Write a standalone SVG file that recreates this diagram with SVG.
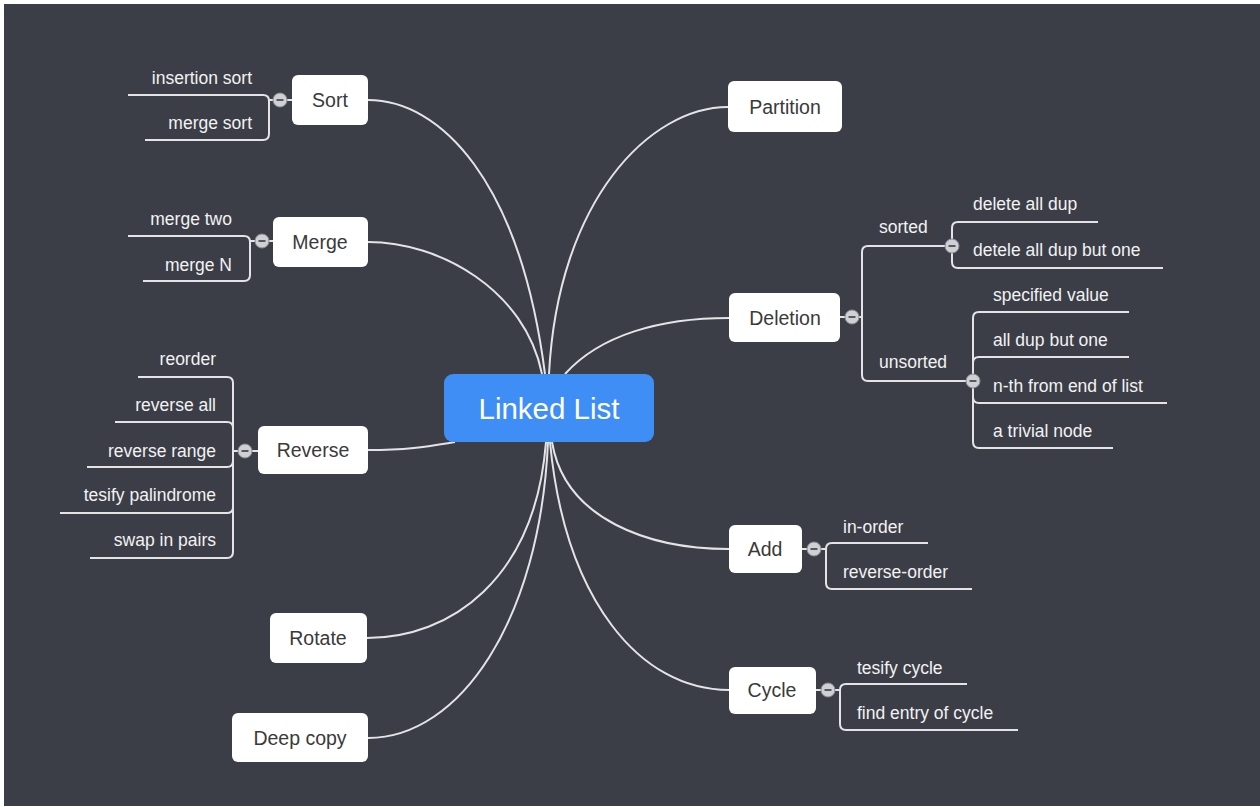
<svg xmlns="http://www.w3.org/2000/svg" width="1260" height="807" viewBox="0 0 1260 807">
<style>
.bg{fill:#3b3e47}
.node rect{fill:#ffffff}
.node text{font-family:"Liberation Sans",Arial,sans-serif;font-size:19.5px;fill:#3a3a3a;text-anchor:middle}
.sub{font-family:"Liberation Sans",Arial,sans-serif;font-size:17.5px;fill:#f2f2f2}
.end{text-anchor:end}
.conn path{fill:none;stroke:#e4e4e6;stroke-width:2}
.tog circle{fill:#cfd0d3;stroke:#8a8c90;stroke-width:1}
.tog line{stroke:#4a4c52;stroke-width:1.8}
</style>
<rect x="0" y="0" width="1260" height="807" fill="#ffffff"/>
<rect class="bg" x="4" y="4" width="1256" height="802"/>
<g id="connectors" class="conn">
<path d="M368,100 C440,100 520,180 545,374"/>
<path d="M368,242 C440,242 525,290 542,374"/>
<path d="M728,107 C650,107 558,200 549,374"/>
<path d="M729,318 C660,318 600,335 565,374"/>
<path d="M368,450 C410,450 430,446 455,442"/>
<path d="M729,549 C650,549 565,520 552,442"/>
<path d="M729,690 C640,690 565,600 550,442"/>
<path d="M367,638 C450,638 535,580 546,442"/>
<path d="M368,738 C460,738 540,620 548,442"/>
<path d="M128,95 H263 Q269,95 269,101 V134 Q269,140 263,140 H145 M269,100 H292"/>
<path d="M128,236 H244 Q250,236 250,242 V275 Q250,281 244,281 H143 M250,241 H273"/>
<path d="M138,377 H227 Q233,377 233,383 V552 Q233,558 227,558 H90 M115,422 H227 Q233,422 233,428 M87,467 H227 Q233,467 233,461 M60,513 H227 Q233,513 233,507 M233,451 H258"/>
<path d="M952,246 H868 Q862,246 862,252 V375 Q862,381 868,381 H973 M840,317 H862"/>
<path d="M1098,222 H958 Q952,222 952,228 V262 Q952,268 958,268 H1163"/>
<path d="M1129,312 H979 Q973,312 973,318 V442 Q973,448 979,448 H1113 M1129,357 H979 Q973,357 973,363 M1167,403 H979 Q973,403 973,397"/>
<path d="M928,543 H832 Q826,543 826,549 V583 Q826,589 832,589 H972 M802,549 H826"/>
<path d="M967,684 H846 Q840,684 840,690 V724 Q840,730 846,730 H1018 M816,690 H840"/>
</g>
<g id="toggles" class="tog">
<circle cx="280" cy="100" r="7"/><line x1="276.5" y1="100" x2="283.5" y2="100"/>
<circle cx="262" cy="241" r="7"/><line x1="258.5" y1="241" x2="265.5" y2="241"/>
<circle cx="245" cy="451" r="7"/><line x1="241.5" y1="451" x2="248.5" y2="451"/>
<circle cx="852" cy="317" r="7"/><line x1="848.5" y1="317" x2="855.5" y2="317"/>
<circle cx="952" cy="246" r="7"/><line x1="948.5" y1="246" x2="955.5" y2="246"/>
<circle cx="973" cy="381" r="7"/><line x1="969.5" y1="381" x2="976.5" y2="381"/>
<circle cx="814" cy="549" r="7"/><line x1="810.5" y1="549" x2="817.5" y2="549"/>
<circle cx="828" cy="690" r="7"/><line x1="824.5" y1="690" x2="831.5" y2="690"/>
</g>
<g id="center">
<rect x="444" y="374" width="210" height="68" rx="9" fill="#3f8ef6"/>
<text x="549" y="419" font-family="Liberation Sans, Arial, sans-serif" font-size="29.5" fill="#ffffff" text-anchor="middle">Linked List</text>
</g>
<g id="sort" class="node"><rect x="292" y="75" width="76" height="50" rx="6"/><text x="330" y="107">Sort</text></g>
<g id="merge" class="node"><rect x="273" y="217" width="95" height="50" rx="6"/><text x="320" y="249">Merge</text></g>
<g id="reverse" class="node"><rect x="258" y="426" width="110" height="48" rx="6"/><text x="313" y="457">Reverse</text></g>
<g id="rotate" class="node"><rect x="270" y="613" width="97" height="50" rx="6"/><text x="318" y="645">Rotate</text></g>
<g id="deepcopy" class="node"><rect x="232" y="713" width="136" height="49" rx="6"/><text x="300" y="745">Deep copy</text></g>
<g id="partition" class="node"><rect x="728" y="81" width="114" height="51" rx="6"/><text x="785" y="114">Partition</text></g>
<g id="deletion" class="node"><rect x="729" y="293" width="111" height="49" rx="6"/><text x="785" y="325">Deletion</text></g>
<g id="add" class="node"><rect x="729" y="525" width="73" height="48" rx="6"/><text x="765" y="556">Add</text></g>
<g id="cycle" class="node"><rect x="729" y="667" width="87" height="47" rx="6"/><text x="772" y="697">Cycle</text></g>
<g id="sort-items">
<text class="sub end" x="252" y="84">insertion sort</text>
<text class="sub end" x="252" y="129">merge sort</text>
</g>
<g id="merge-items">
<text class="sub end" x="232" y="225">merge two</text>
<text class="sub end" x="232" y="271">merge N</text>
</g>
<g id="reverse-items">
<text class="sub end" x="216" y="365">reorder</text>
<text class="sub end" x="216" y="411">reverse all</text>
<text class="sub end" x="216" y="457">reverse range</text>
<text class="sub end" x="216" y="501">tesify palindrome</text>
<text class="sub end" x="216" y="546">swap in pairs</text>
</g>
<g id="deletion-items">
<text class="sub" x="879" y="233">sorted</text>
<text class="sub" x="879" y="368">unsorted</text>
<text class="sub" x="973" y="210">delete all dup</text>
<text class="sub" x="973" y="256">detele all dup but one</text>
<text class="sub" x="993" y="301">specified value</text>
<text class="sub" x="993" y="346">all dup but one</text>
<text class="sub" x="993" y="392">n-th from end of list</text>
<text class="sub" x="993" y="437">a trivial node</text>
</g>
<g id="add-items">
<text class="sub" x="843" y="533">in-order</text>
<text class="sub" x="843" y="578">reverse-order</text>
</g>
<g id="cycle-items">
<text class="sub" x="857" y="674">tesify cycle</text>
<text class="sub" x="857" y="719">find entry of cycle</text>
</g>
</svg>
